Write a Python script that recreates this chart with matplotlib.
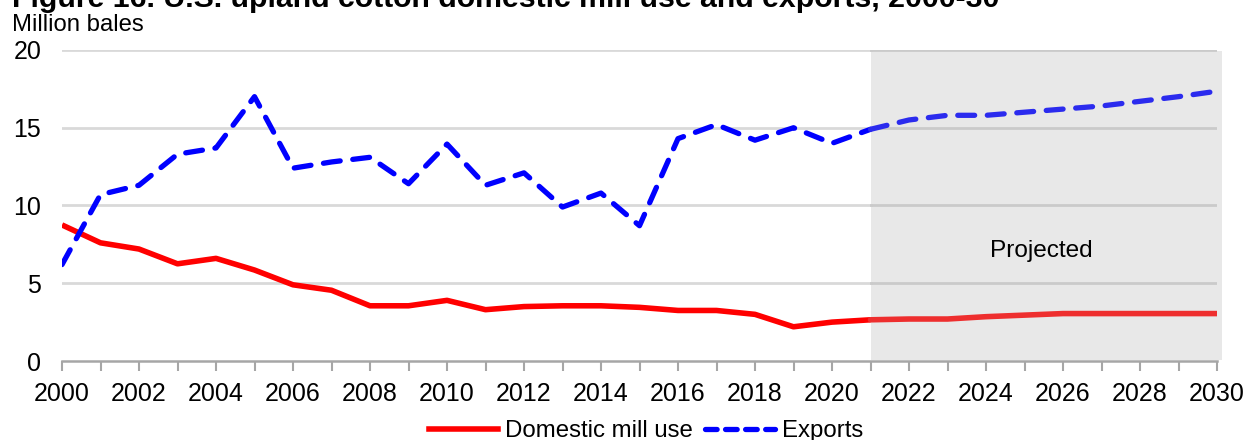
import numpy as np
import matplotlib.pyplot as plt
from matplotlib.lines import Line2D

plt.rcParams['font.family'] = ['Liberation Sans', 'DejaVu Sans']

# data (million bales)
years = list(range(2000, 2031))
mill_use = [8.75, 7.6, 7.2, 6.25, 6.6, 5.85, 4.9, 4.55, 3.55, 3.55,
            3.9, 3.3, 3.5, 3.55, 3.55, 3.45, 3.25, 3.25, 3.0, 2.2,
            2.5, 2.65, 2.7, 2.7, 2.85, 2.95, 3.05, 3.05, 3.05, 3.05, 3.05]
exports = [6.2, 10.7, 11.3, 13.3, 13.7, 17.0, 12.4, 12.8, 13.1, 11.4,
           13.95, 11.3, 12.1, 9.9, 10.8, 8.7, 14.3, 15.2, 14.2, 15.0,
           14.0, 14.9, 15.5, 15.8, 15.8, 16.0, 16.2, 16.4, 16.7, 17.0, 17.35]
proj_start = 2021
yticks = [0, 5, 10, 15, 20]

years = np.array(years)
mill_use = np.array(mill_use)
exports = np.array(exports)
hist = years <= proj_start
proj = years >= proj_start

fig = plt.figure(figsize=(12.45, 4.4), dpi=100)
ax = fig.add_axes([62 / 1245, 79 / 440, 1155 / 1245, 311 / 440])

# shaded projection area
ax.axvspan(proj_start, 2030.14, ymin=0.003, ymax=0.997, color='#E8E8E8',
           lw=0, zorder=0, clip_on=False)

# gridlines
for y in yticks[1:]:
    ax.plot([2000, proj_start], [y, y], color='#D9D9D9', lw=2, zorder=1)
    ax.plot([proj_start, 2030], [y, y], color='#CACACA', lw=2, zorder=1)

ax.plot(years[hist], mill_use[hist], color='#FF0000', lw=4, zorder=3,
        solid_capstyle='butt')
ax.plot(years[proj], mill_use[proj], color='#EE2E2E', lw=4, zorder=3,
        solid_capstyle='round')
ax.plot(years[hist], exports[hist], color='#0000FF', lw=3.8, zorder=4,
        linestyle=(0, (3.2, 2.4)), dash_capstyle='round')
ax.plot(years[proj], exports[proj], color='#2B2BEE', lw=3.8, zorder=4,
        linestyle=(0, (3.2, 2.4)), dash_capstyle='round')

ax.text(2025.43, 7.05, 'Projected', ha='center', va='center', fontsize=17.6)

ax.set_xlim(2000, 2030)
ax.set_ylim(0, 20)
ax.set_yticks(yticks)
ax.set_xticks(range(2000, 2031, 2))
ax.set_xticks(range(2001, 2031, 2), minor=True)
ax.tick_params(axis='y', length=0, pad=15, labelsize=18)
ax.tick_params(axis='x', which='both', direction='out', length=7, width=1.5,
               color='#A6A6A6', pad=8, labelsize=18)
for s in ['top', 'right', 'left']:
    ax.spines[s].set_visible(False)
ax.spines['bottom'].set_color('#A6A6A6')
ax.spines['bottom'].set_linewidth(1.8)
ax.spines['bottom'].set_zorder(5)

# legend handles
handles = [Line2D([], [], color='#FF0000', lw=4),
           Line2D([], [], color='#0000FF', lw=3.8, linestyle=(0, (2.2, 1.6)),
                  dash_capstyle='round')]
fig.legend(handles, ['Domestic mill use', 'Exports'], loc='center',
           bbox_to_anchor=(646 / 1245, 1 - 431 / 440), ncol=2, frameon=False,
           fontsize=17.3, handlelength=2.9, handletextpad=0.3,
           columnspacing=0.5, borderpad=0)

fig.text(12 / 1245, 1 - 31 / 440, 'Million bales', fontsize=17.2,
         va='baseline', ha='left')
fig.text(12 / 1245, 1 - 7 / 440,
         'Figure 16. U.S. upland cotton domestic mill use and exports, 2000-30',
         fontsize=21.8, fontweight='bold', va='baseline', ha='left')

fig.savefig('out.png', dpi=100)
